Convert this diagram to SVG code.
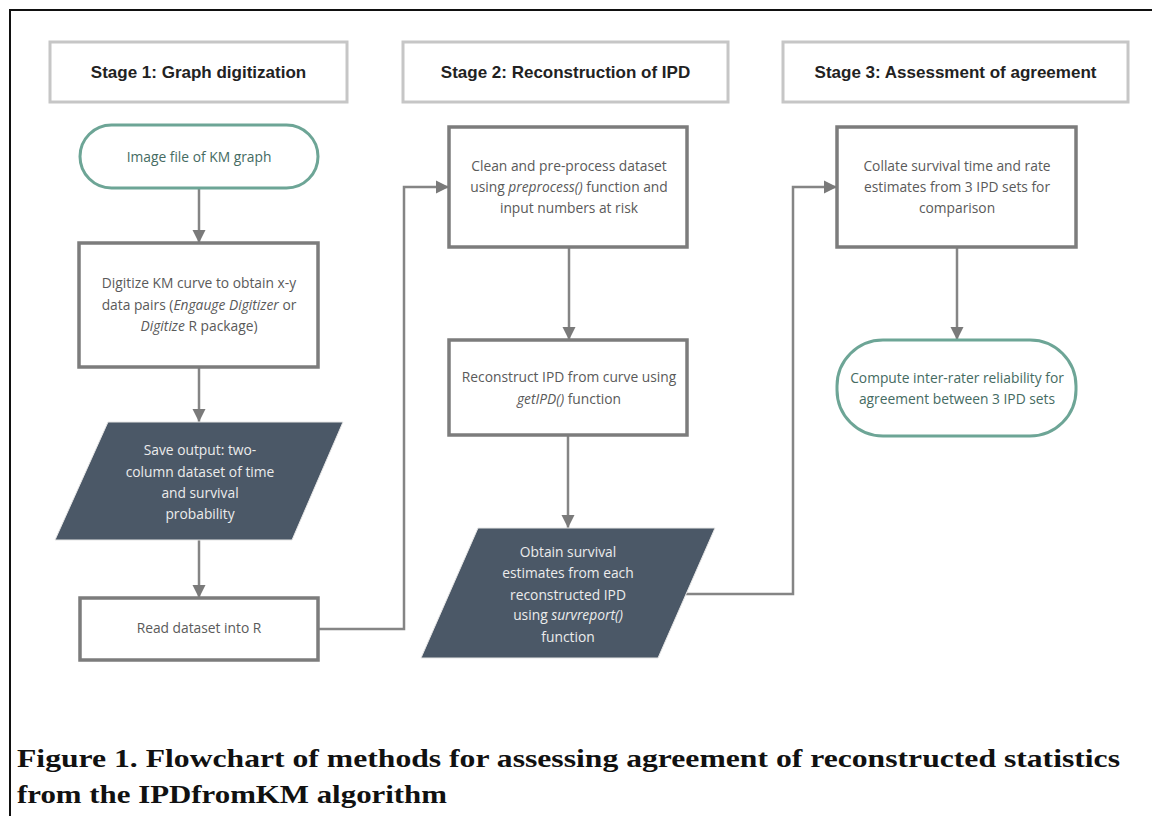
<svg xmlns="http://www.w3.org/2000/svg" width="1152" height="816" viewBox="0 0 1152 816">
<style>
.hdr{fill:#fff;stroke:#c6c6c6;stroke-width:3}
.hdrt{font-family:"Liberation Sans",Arial,sans-serif;font-weight:bold;font-size:17px;fill:#222;text-anchor:middle}
.box{fill:#fff;stroke:#7c7c7c;stroke-width:3.5}
.term{fill:#fff;stroke:#6da596;stroke-width:3}
.para{fill:#4b5867;stroke:#e6e6e6;stroke-width:1}
.t{font-family:"Open Sans","Noto Sans",sans-serif;font-size:13.8px;fill:#5a5a5a;text-anchor:middle}
.tt{font-family:"Open Sans","Noto Sans",sans-serif;font-size:13.8px;fill:#456b62;text-anchor:middle}
.tw{font-family:"Open Sans","Noto Sans",sans-serif;font-size:13.8px;fill:#ececec;text-anchor:middle}
.i{font-style:italic}
.cap{font-family:"Liberation Serif","Times New Roman",serif;font-weight:bold;font-size:26px;fill:#111}
.con{fill:none;stroke:#858585;stroke-width:2.5}
</style>
<defs>
<marker id="ah" markerUnits="userSpaceOnUse" markerWidth="14" markerHeight="14" viewBox="0 0 14 14" refX="13" refY="7" orient="auto">
<path d="M0,0.5 L13,7 L0,13.5 Z" fill="#7a7a7a"/>
</marker>
</defs>
<rect x="0" y="0" width="1152" height="816" fill="#fff"/>
<path d="M10,816 V10 H1152" fill="none" stroke="#111" stroke-width="2"/>

<g id="stage1">
<rect class="hdr" x="50" y="42" width="297" height="60"/>
<text class="hdrt" x="198.5" y="78">Stage 1: Graph digitization</text>
</g>
<g id="stage2">
<rect class="hdr" x="403" y="42" width="325" height="60"/>
<text class="hdrt" x="565.5" y="78">Stage 2: Reconstruction of IPD</text>
</g>
<g id="stage3">
<rect class="hdr" x="783" y="42" width="345" height="60"/>
<text class="hdrt" x="955.5" y="78">Stage 3: Assessment of agreement</text>
</g>

<g id="connectors">
<line class="con" x1="199" y1="188" x2="199" y2="243" marker-end="url(#ah)"/>
<line class="con" x1="199" y1="367" x2="199" y2="422" marker-end="url(#ah)"/>
<line class="con" x1="199" y1="540" x2="199" y2="598" marker-end="url(#ah)"/>
<path class="con" d="M318,629 H404 V187 H449" marker-end="url(#ah)"/>
<line class="con" x1="569" y1="247" x2="569" y2="340" marker-end="url(#ah)"/>
<line class="con" x1="568" y1="435" x2="568" y2="528" marker-end="url(#ah)"/>
<path class="con" d="M686,594 H793 V187 H837" marker-end="url(#ah)"/>
<line class="con" x1="957" y1="247" x2="957" y2="340" marker-end="url(#ah)"/>
</g>

<g id="image-file">
<rect class="term" x="80" y="125" width="238" height="63" rx="31.5"/>
<text class="tt" x="199" y="162">Image file of KM graph</text>
</g>
<g id="digitize">
<rect class="box" x="79" y="243" width="239" height="124"/>
<text class="t" x="199" y="288">Digitize KM curve to obtain x-y</text>
<text class="t" x="199" y="310">data pairs (<tspan class="i">Engauge Digitizer</tspan> or</text>
<text class="t" x="199" y="331"><tspan class="i">Digitize</tspan> R package)</text>
</g>
<g id="save-output">
<polygon class="para" points="108,422 343,422 292,540 55,540"/>
<text class="tw" x="200" y="455">Save output: two-</text>
<text class="tw" x="200" y="477">column dataset of time</text>
<text class="tw" x="200" y="498">and survival</text>
<text class="tw" x="200" y="519">probability</text>
</g>
<g id="read-dataset">
<rect class="box" x="80" y="598" width="238" height="62"/>
<text class="t" x="199" y="633">Read dataset into R</text>
</g>
<g id="clean">
<rect class="box" x="449" y="127" width="238" height="120"/>
<text class="t" x="569" y="171">Clean and pre-process dataset</text>
<text class="t" x="569" y="192">using <tspan class="i">preprocess()</tspan> function and</text>
<text class="t" x="569" y="213">input numbers at risk</text>
</g>
<g id="reconstruct">
<rect class="box" x="449" y="340" width="238" height="95"/>
<text class="t" x="569" y="382">Reconstruct IPD from curve using</text>
<text class="t" x="569" y="404"><tspan class="i">getIPD()</tspan> function</text>
</g>
<g id="obtain">
<polygon class="para" points="478,528 715,528 658,658 421,658"/>
<text class="tw" x="568" y="557">Obtain survival</text>
<text class="tw" x="568" y="578">estimates from each</text>
<text class="tw" x="568" y="600">reconstructed IPD</text>
<text class="tw" x="568" y="620">using <tspan class="i">survreport()</tspan></text>
<text class="tw" x="568" y="642">function</text>
</g>
<g id="collate">
<rect class="box" x="837" y="127" width="239" height="120"/>
<text class="t" x="957" y="171">Collate survival time and rate</text>
<text class="t" x="957" y="192">estimates from 3 IPD sets for</text>
<text class="t" x="957" y="213">comparison</text>
</g>
<g id="compute">
<rect class="term" x="837" y="340" width="239" height="96" rx="46"/>
<text class="tt" x="957" y="383">Compute inter-rater reliability for</text>
<text class="tt" x="957" y="404">agreement between 3 IPD sets</text>
</g>

<g id="caption">
<text class="cap" x="17" y="767" textLength="1103" lengthAdjust="spacingAndGlyphs">Figure 1. Flowchart of methods for assessing agreement of reconstructed statistics</text>
<text class="cap" x="17" y="803" textLength="430" lengthAdjust="spacingAndGlyphs">from the IPDfromKM algorithm</text>
</g>
</svg>
